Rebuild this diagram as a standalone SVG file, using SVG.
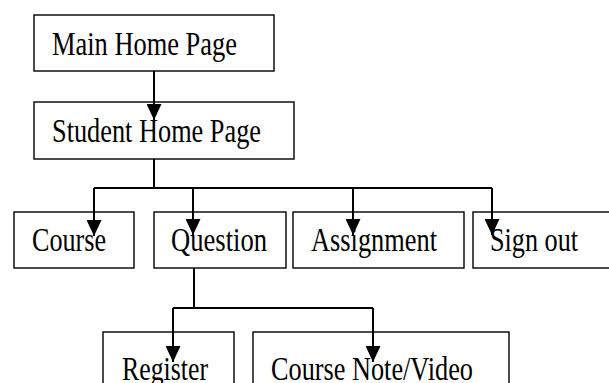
<svg xmlns="http://www.w3.org/2000/svg" width="609" height="383" viewBox="0 0 609 383">
  <style>
    .box { fill: #ffffff; stroke: #000000; stroke-width: 1.4; }
    .label { font-family: "Liberation Serif", "Times New Roman", serif; font-size: 33px; fill: #000000; }
    .wire { fill: none; stroke: #000000; stroke-width: 2; }
  </style>
  <defs>
    <!-- filled triangular head, tip placed on the end of the path -->
    <marker id="head" markerUnits="userSpaceOnUse" viewBox="0 0 16 15" markerWidth="16" markerHeight="15" refX="16" refY="7.5" orient="auto">
      <path d="M0,0 L16,7.5 L0,15 Z" fill="#000000"/>
    </marker>
  </defs>

  <rect width="609" height="383" fill="#ffffff"/>

  <g id="main-home">
    <rect class="box" x="34" y="15" width="240" height="56"/>
    <text class="label" x="52" y="55" textLength="185" lengthAdjust="spacingAndGlyphs">Main Home Page</text>
  </g>
  <g id="student-home">
    <rect class="box" x="34" y="102" width="260" height="57"/>
    <text class="label" x="52" y="142" textLength="209" lengthAdjust="spacingAndGlyphs">Student Home Page</text>
  </g>
  <g id="course">
    <rect class="box" x="14" y="212" width="120" height="56"/>
    <text class="label" x="32" y="251" textLength="74" lengthAdjust="spacingAndGlyphs">Course</text>
  </g>
  <g id="question">
    <rect class="box" x="154" y="212" width="132" height="56"/>
    <text class="label" x="171" y="251" textLength="96" lengthAdjust="spacingAndGlyphs">Question</text>
  </g>
  <g id="assignment">
    <rect class="box" x="293" y="212" width="171" height="56"/>
    <text class="label" x="311" y="251" textLength="126" lengthAdjust="spacingAndGlyphs">Assignment</text>
  </g>
  <g id="sign-out">
    <rect class="box" x="473" y="212" width="140" height="56"/>
    <text class="label" x="490" y="251" textLength="88" lengthAdjust="spacingAndGlyphs">Sign out</text>
  </g>
  <g id="register">
    <rect class="box" x="103" y="332" width="131" height="60"/>
    <text class="label" x="122" y="380" textLength="86" lengthAdjust="spacingAndGlyphs">Register</text>
  </g>
  <g id="course-note">
    <rect class="box" x="253" y="332" width="256" height="60"/>
    <text class="label" x="271" y="380" textLength="202" lengthAdjust="spacingAndGlyphs">Course Note/Video</text>
  </g>

  <g id="connectors">
    <path class="wire" d="M154,71 V120" marker-end="url(#head)"/>
    <path class="wire" d="M154,159 V188 M94,188 H492"/>
    <path class="wire" d="M94,188 V236" marker-end="url(#head)"/>
    <path class="wire" d="M193,188 V235" marker-end="url(#head)"/>
    <path class="wire" d="M353,188 V235" marker-end="url(#head)"/>
    <path class="wire" d="M492,188 V235" marker-end="url(#head)"/>
    <path class="wire" d="M194,268 V308 M173,308 H373"/>
    <path class="wire" d="M173,308 V362" marker-end="url(#head)"/>
    <path class="wire" d="M373,308 V362" marker-end="url(#head)"/>
  </g>
</svg>
